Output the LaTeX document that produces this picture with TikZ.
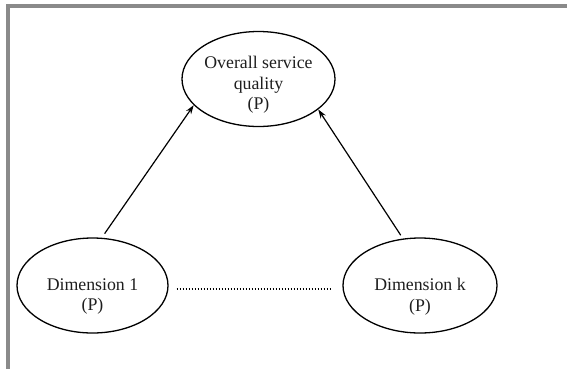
\documentclass[tikz,border=0pt]{standalone}
\usepackage{fontspec}
\setmainfont{Liberation Serif}
\usetikzlibrary{shapes.geometric,arrows.meta}
\definecolor{framegray}{HTML}{8A8A8A}
\definecolor{inkgray}{HTML}{1E1E1E}
\begin{document}
\begin{tikzpicture}[x=1pt,y=-1pt,
  construct/.style={draw=black, line width=1.3pt, ellipse, inner sep=0pt,
    minimum width=153pt, minimum height=95pt},
  lbl/.style={align=center, text=inkgray, inner sep=0pt,
    font=\fontsize{17.8}{20.5}\selectfont},
  link/.style={draw=black, line width=1.2pt, -{Stealth[length=9pt,width=6pt]}}]
  \useasboundingbox (0,0) rectangle (567,368);
  % outer frame (top and left edges)
  \draw[framegray, line width=3.5pt] (8,370) -- (8,6) -- (570,6);

  % constructs
  \node[construct] (top) at (258.5,79) {};
  \node[construct, minimum width=151pt] (d1) at (92.5,285.5) {};
  \node[construct, minimum width=154pt] (dk) at (420,285.5) {};

  % labels
  \node[lbl] (toptext) at ([yshift=-6pt]top.center) {Overall service\\quality\\(P)};
  \node[lbl] (d1text) at ([yshift=-11pt]d1.center) {Dimension 1\\(P)};
  \node[lbl] (dktext) at ([yshift=-11pt]dk.center) {Dimension k\\(P)};

  % dimensions feed the overall perception
  \draw[link, shorten <=5pt] (d1.79) -- (top.202);
  \draw[link, shorten <=4pt] (dk.110) -- (top.333);

  % further dimensions in between
  \draw[line width=1.2pt, dash pattern=on 1.2pt off 1.8pt, shorten <=8pt, shorten >=11pt]
    ([yshift=-3.5pt]d1.east) -- ([yshift=-3.5pt]dk.west);
\end{tikzpicture}
\end{document}
